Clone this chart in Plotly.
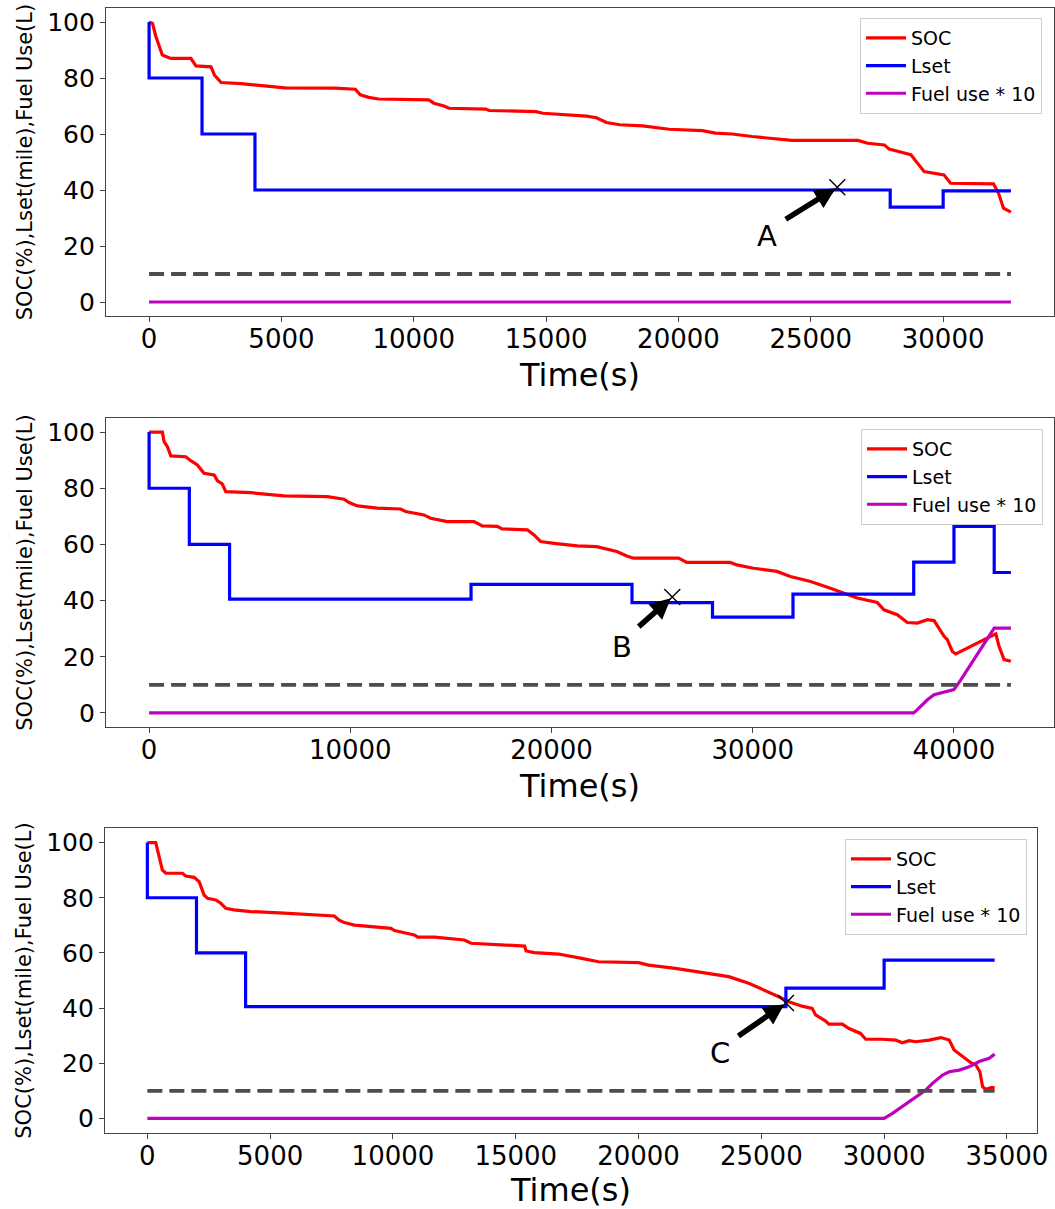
import plotly.graph_objects as go

# ---------------- data ----------------
# Panel 1
soc1_t = [0, 130, 250, 500, 820, 1580, 1770, 2340, 2470, 2720, 3480, 4370, 5130, 7030, 7790,
          7980, 8290, 8670, 10570, 10760, 11140, 11330, 12720, 12850, 14620, 14880, 15890,
          16520, 16900, 17280, 17780, 18650, 19650, 20900, 21400, 22030, 22780, 23400, 24280,
          26780, 27150, 27780, 27960, 28530, 28780, 29030, 29280, 30030, 30280, 31900, 32090,
          32280, 32560]
soc1_v = [100, 99.5, 95, 88.2, 87, 87, 84.3, 84, 81, 78.4, 78, 77.2, 76.5, 76.4, 76,
          74, 73.1, 72.5, 72.2, 71, 70, 69.2, 68.9, 68.4, 68, 67.4, 66.8,
          66.4, 65.8, 64.1, 63.3, 62.9, 61.7, 61.2, 60.3, 60, 59.1, 58.5, 57.7,
          57.7, 56.7, 56.1, 54.6, 53.2, 52.6, 49.6, 46.6, 45.4, 42.4, 42.2, 38.9,
          33.5, 32.1]
lset1_t = [0, 0, 2000, 4000, 28000, 30000, 32560]
lset1_v = [100, 80, 60, 40, 33.9, 39.7, 39.7]
fuel1_t = [0, 32560]
fuel1_v = [0, 0]

# Panel 2
soc2_t = [0, 660, 745, 910, 1080, 1820, 2070, 2400, 2730, 3230, 3400, 3640, 3810, 5050, 6710,
          8860, 9690, 9940, 10350, 11340, 12500, 12750, 13660, 13990, 14820, 16150, 16560,
          17300, 17550, 18800, 19130, 19460, 20120, 20910, 21280, 22240, 23240, 23740, 24070,
          26310, 26720, 28880, 29210, 30040, 31200, 31870, 32870, 33860, 34530, 35190, 36190,
          36520, 37180, 37680, 38180, 38680, 39010, 39260, 39510, 39670, 39920, 40090, 41910,
          42080, 42240, 42490, 42830]
soc2_v = [100, 100, 96.6, 94.8, 91.5, 91.2, 89.8, 88.3, 85.3, 84.7, 82.6, 81.5, 78.8, 78.4, 77.3,
          77, 76.1, 74.9, 73.7, 72.9, 72.6, 71.7, 70.5, 69.3, 68.1, 68.1, 66.6,
          66.4, 65.5, 65.2, 63.4, 61, 60.4, 59.8, 59.5, 59.2, 57.5, 55.9, 55.1,
          55.1, 53.6, 53.6, 52.7, 51.5, 50.4, 48.6, 46.8, 44.4, 42.7, 40.9, 39.3,
          36.7, 35, 32.2, 32, 33.2, 32.9, 30.2, 27.3, 26.1, 21.9, 21, 27.8,
          28.2, 23.7, 19, 18.4]
lset2_t = [0, 0, 2000, 4000, 16000, 24000, 28000, 32000, 38000, 40000, 42000, 42830]
lset2_v = [100, 80, 60, 40.5, 45.8, 39.3, 34.1, 42.3, 53.7, 66.4, 50, 50]
fuel2_t = [0, 38000, 38180, 38680, 39010, 39670, 40000, 40340, 42000, 42830]
fuel2_v = [0, 0, 1.2, 4.7, 6.5, 7.7, 8.3, 11.8, 30.2, 30.2]

# Panel 3
soc3_t = [0, 340, 480, 610, 750, 1430, 1560, 1900, 2110, 2310, 2450, 2790, 2990, 3190, 3530,
          4210, 5570, 7610, 7810, 8020, 8430, 9240, 9920, 10060, 10870, 11010, 11690, 12910,
          13180, 15360, 15420, 15760, 16740, 17690, 18370, 20000, 20410, 21500, 22860, 23670,
          24490, 25300, 25710, 26120, 26660, 27070, 27210, 27620, 27750, 28300, 28570, 29040,
          29250, 29930, 30470, 30740, 31020, 31290, 31830, 32310, 32650, 32850, 33190, 33530,
          33740, 33900, 34010, 34140, 34350, 34500]
soc3_v = [100, 100, 94.9, 90.1, 88.9, 88.9, 87.9, 87.4, 85.8, 81, 79.8, 79.2, 78, 76.2, 75.6,
          75, 74.4, 73.4, 71.9, 71, 70.1, 69.5, 68.9, 68.1, 66.5, 65.7, 65.7, 64.7,
          63.5, 62.5, 60.7, 60.1, 59.6, 58, 56.8, 56.5, 55.6, 54.4, 52.6, 51.4,
          49, 45.9, 44.1, 42.3, 40.7, 39.9, 37.5, 35.3, 34.2, 34.2, 32.6, 30.8,
          28.7, 28.7, 28.4, 27.4, 28.2, 27.8, 28.4, 29.3, 28.4, 24.8, 22.4, 20.2,
          19.3, 16.9, 11.5, 10.5, 11.2, 11.2]
lset3_t = [0, 0, 2000, 4000, 26000, 30000, 34500]
lset3_v = [100, 80, 60, 40.5, 47.2, 57.4, 57.4]
fuel3_t = [0, 30000, 30340, 30740, 31150, 31420, 31700, 31970, 32380, 32650, 33060, 33460,
           33870, 34280, 34500]
fuel3_v = [0, 0, 1.8, 4.2, 6.7, 8.5, 10.3, 12.7, 15.7, 16.9, 17.5, 18.7, 20.6, 21.8, 23.3]

soc_limit = 10
marks = [("A", 26000, 41.0), ("B", 26000, 41.3), ("C", 26000, 41.8)]
x_dticks = [5000, 10000, 5000]
y_ticks = [0, 20, 40, 60, 80, 100]

panels = [
    (soc1_t, soc1_v, lset1_t, lset1_v, fuel1_t, fuel1_v),
    (soc2_t, soc2_v, lset2_t, lset2_v, fuel2_t, fuel2_v),
    (soc3_t, soc3_v, lset3_t, lset3_v, fuel3_t, fuel3_v),
]

# ---------------- layout geometry (pixels in a 1055 x 1209 page) ----------------
W, H = 1055, 1209
frames = [  # left, right, top, bottom
    (106, 1054, 8, 316),
    (106, 1054, 418, 727),
    (105, 1037, 828, 1133),
]
y_ranges = [[-5, 105], [-5, 105], [-5.3, 105.3]]
legend_pos = [(1042, 18), (1043, 429), (1027, 839)]
# offsets (pixels) of the arrow tail and the letter relative to the marked point
arrow_tail = [(-53, 33), (-35, 31), (-49, 34)]
letter_off = [(-70, -49), (-50, -50), (-66, -50)]

FONT = "DejaVu Sans"
fig = go.Figure()
layout = dict(
    width=W, height=H,
    margin=dict(l=0, r=0, t=0, b=0, autoexpand=False),
    paper_bgcolor="white", plot_bgcolor="white",
    font=dict(family=FONT, color="black"),
    showlegend=True,
    annotations=[],
)

for i, (st, sv, lt, lv, ft, fv) in enumerate(panels):
    n = "" if i == 0 else str(i + 1)
    xa, ya = "x" + n, "y" + n
    leg = "legend" + n
    t_end = st[-1]

    fig.add_trace(go.Scatter(x=st, y=sv, mode="lines", name="SOC",
                             line=dict(color="#ff0000", width=3.2),
                             xaxis=xa, yaxis=ya, legend=leg, legendgroup="soc" + n))
    fig.add_trace(go.Scatter(x=lt, y=lv, mode="lines", name="Lset", line_shape="hv",
                             line=dict(color="#0000ff", width=3.2),
                             xaxis=xa, yaxis=ya, legend=leg, legendgroup="lset" + n))
    fig.add_trace(go.Scatter(x=ft, y=fv, mode="lines", name="Fuel use * 10",
                             line=dict(color="#bf00bf", width=3.2),
                             xaxis=xa, yaxis=ya, legend=leg, legendgroup="fuel" + n))
    fig.add_trace(go.Scatter(x=[0, t_end], y=[soc_limit, soc_limit], mode="lines",
                             line=dict(color="#4d4d4d", width=3.8, dash="15px,7px"),
                             xaxis=xa, yaxis=ya, showlegend=False, hoverinfo="skip"))

    label, mx, my = marks[i]
    fig.add_trace(go.Scatter(x=[mx], y=[my], mode="markers",
                             marker=dict(symbol="x-thin", size=16,
                                         line=dict(color="black", width=1.4)),
                             xaxis=xa, yaxis=ya, showlegend=False, hoverinfo="skip"))

    l, r, t, b = frames[i]
    xr = [-0.05 * t_end, 1.05 * t_end]
    layout["xaxis" + n] = dict(
        domain=[l / W, r / W], range=xr, anchor=ya,
        showline=True, linecolor="#444444", linewidth=1.3, mirror=True,
        ticks="outside", ticklen=5, tickwidth=1.2, tickcolor="#444444",
        dtick=x_dticks[i], tick0=0, tickformat="d", showgrid=False, zeroline=False,
        tickfont=dict(size=26, family=FONT, color="black"), ticklabelstandoff=-5,
        title=dict(text="Time(s)", font=dict(size=32, family=FONT, color="black"), standoff=10),
        automargin=False,
    )
    layout["yaxis" + n] = dict(
        domain=[1 - b / H, 1 - t / H], range=y_ranges[i], anchor=xa,
        showline=True, linecolor="#444444", linewidth=1.3, mirror=True,
        ticks="outside", ticklen=5, tickwidth=1.2, tickcolor="#444444",
        tickvals=y_ticks, showgrid=False, zeroline=False,
        tickfont=dict(size=25, family=FONT, color="black"),
        title=dict(text="SOC(%),Lset(mile),Fuel Use(L)",
                   font=dict(size=21, family=FONT, color="black"), standoff=8),
        automargin=False,
    )
    lx, ly = legend_pos[i]
    layout[leg] = dict(
        x=lx / W, y=1 - ly / H, xanchor="right", yanchor="top",
        bgcolor="white", bordercolor="#cccccc", borderwidth=1,
        font=dict(size=19, family=FONT, color="black"),
        traceorder="grouped", tracegroupgap=0, itemwidth=40,
    )

    ax_off, ay_off = arrow_tail[i]
    layout["annotations"].append(dict(
        x=mx, y=my, xref=xa, yref=ya, text="", showarrow=True,
        ax=ax_off, ay=ay_off, arrowhead=2, arrowsize=0.75, arrowwidth=5.5,
        arrowcolor="black", standoff=2,
    ))
    tx, ty = letter_off[i]
    layout["annotations"].append(dict(
        x=mx, y=my, xref=xa, yref=ya, text=label, showarrow=False,
        xshift=tx, yshift=ty, font=dict(size=29, family=FONT, color="black"),
    ))

fig.update_layout(**layout)
fig.write_html("out.html")
